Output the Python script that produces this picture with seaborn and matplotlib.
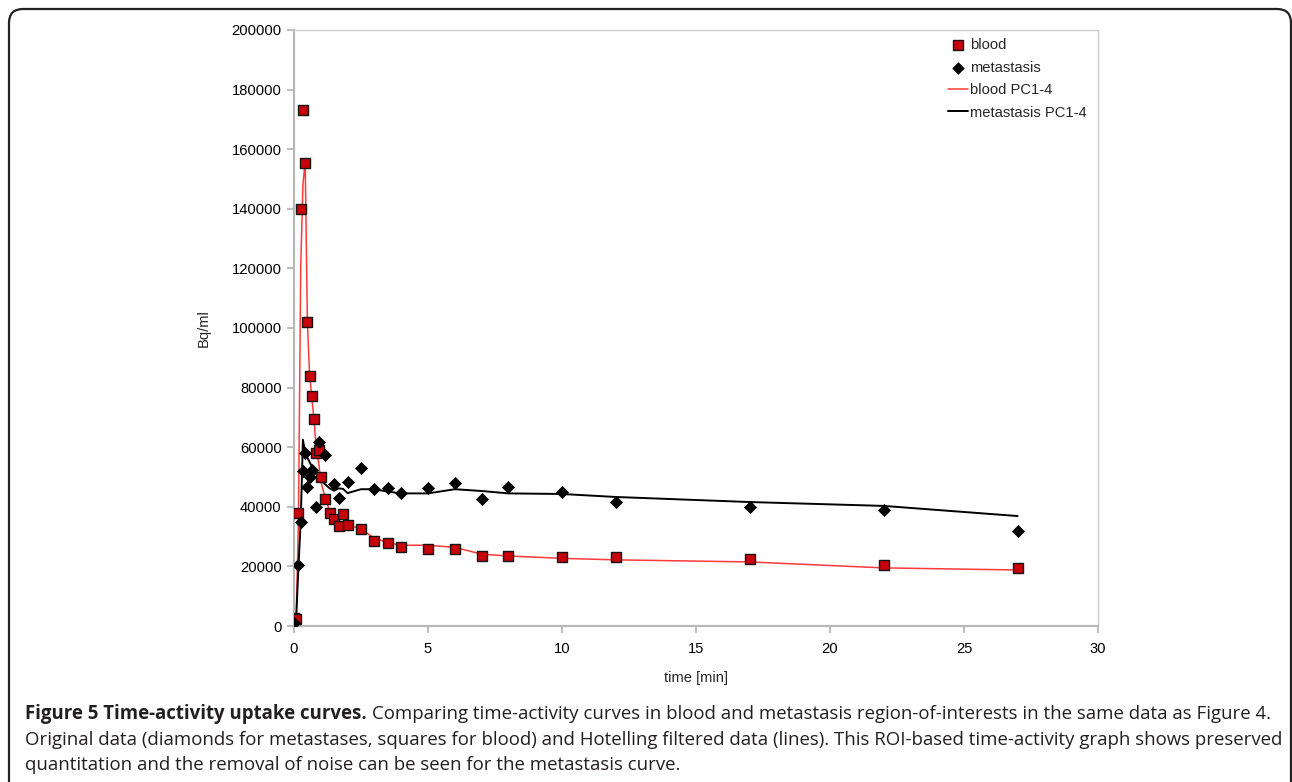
import numpy as np
import pandas as pd
import matplotlib
matplotlib.use("Agg")
import matplotlib.pyplot as plt
import seaborn as sns
from matplotlib.patches import FancyBboxPatch
from matplotlib.transforms import IdentityTransform

# ---------------- data ----------------
t_blood = [0, 0.083, 0.167, 0.25, 0.333, 0.417, 0.5, 0.583, 0.667, 0.75, 0.833, 0.917,
           1.0, 1.167, 1.333, 1.5, 1.667, 1.833, 2.0, 2.5, 3, 3.5, 4, 5, 6, 7, 8, 10,
           12, 17, 22, 27]
blood = [2600, 2400, 38000, 140000, 173000, 155500, 102000, 84000, 77300, 69300, 58000, 59000,
         50000, 42500, 38000, 36000, 33500, 37500, 33800, 32700, 28500, 27700, 26400, 25700,
         25700, 23600, 23500, 23300, 23200, 22500, 20500, 19500]

t_meta = [0, 0.167, 0.25, 0.333, 0.417, 0.5, 0.583, 0.667, 0.833, 0.917, 1.167, 1.5,
          1.667, 2.0, 2.5, 3, 3.5, 4, 5, 6, 7, 8, 10, 12, 17, 22, 27]
meta = [1100, 20500, 34800, 52000, 57900, 46700, 49900, 52300, 39800, 61600, 57300, 47500,
        43000, 48400, 53100, 45900, 46400, 44500, 46200, 47900, 42500, 46700, 45100, 41600,
        39900, 38900, 31900]

t_fit = t_blood
blood_fit = [1500, 3000, 36000, 120000, 148000, 156000, 102000, 84000, 76500, 69000, 59000, 55000,
             48500, 43000, 38500, 36500, 35000, 34500, 34000, 32500, 29500, 28000, 27100, 27100,
             26400, 24100, 23500, 22700, 22200, 21500, 19500, 18800]
meta_fit = [800, 3000, 20000, 35000, 62500, 58000, 56500, 55000, 53500, 52000, 51000, 50500,
            49000, 47500, 46200, 45400, 46200, 46000, 44600, 45900, 45900, 45100, 44500, 44500,
            45900, 45300, 44500, 44300, 43300, 41600, 40300, 36900]

x_ticks = [0, 5, 10, 15, 20, 25, 30]
y_ticks = [0, 20000, 40000, 60000, 80000, 100000, 120000, 140000, 160000, 180000, 200000]

caption_bold = "Figure 5 Time-activity uptake curves."
caption_lines = [
    "Comparing time-activity curves in blood and metastasis region-of-interests in the same data as Figure 4.",
    "Original data (diamonds for metastases, squares for blood) and Hotelling filtered data (lines). This ROI-based time-activity graph shows preserved",
    "quantitation and the removal of noise can be seen for the metastasis curve.",
]

# ---------------- style ----------------
sns.set_theme(style="white")
plt.rcParams['font.family'] = ['Liberation Sans', 'DejaVu Sans']

W, H = 1292, 782
fig = plt.figure(figsize=(W / 100, H / 100), dpi=100)
fig.patch.set_facecolor('white')
ax = fig.add_axes([294 / W, 1 - 626 / H, 804 / W, 596 / H])

df_fit = pd.DataFrame({'t': t_fit, 'blood': blood_fit, 'meta': meta_fit})
df_blood = pd.DataFrame({'t': t_blood, 'v': blood})
df_meta = pd.DataFrame({'t': t_meta, 'v': meta})

sns.lineplot(data=df_fit, x='t', y='blood', ax=ax, color='#ff3a3a', lw=1.1,
             label='blood PC1-4', zorder=2)
sns.lineplot(data=df_fit, x='t', y='meta', ax=ax, color='black', lw=1.4,
             label='metastasis PC1-4', zorder=2)
sns.scatterplot(data=df_blood, x='t', y='v', ax=ax, marker='s', s=62, color='#c8000a',
                edgecolor='#151515', linewidth=1.0, label='blood', zorder=3)
sns.scatterplot(data=df_meta, x='t', y='v', ax=ax, marker='D', s=38, color='black',
                edgecolor='black', linewidth=0.5, label='metastasis', zorder=4)

ax.set_xlim(0, 30)
ax.set_ylim(0, 200000)
ax.set_xticks(x_ticks)
ax.set_xticklabels([str(v) for v in x_ticks])
ax.set_yticks(y_ticks)
ax.set_yticklabels([str(v) for v in y_ticks])

for s in ['left', 'bottom']:
    ax.spines[s].set_color('#b8b8b8')
    ax.spines[s].set_linewidth(1.6)
for s in ['top', 'right']:
    ax.spines[s].set_color('#cccccc')
    ax.spines[s].set_linewidth(1.0)

ax.tick_params(axis='both', which='major', bottom=True, left=True, direction='out',
               length=5.3, width=1.3, color='#b8b8b8', labelsize=10.6, labelcolor='black')
ax.tick_params(axis='y', pad=3.6)
ax.tick_params(axis='x', pad=6)

ax.set_xlabel('time [min]', fontsize=10.6, labelpad=11)
ax.set_ylabel('Bq/ml', fontsize=10.6, labelpad=15)

handles, labels = ax.get_legend_handles_labels()
order = ['blood', 'metastasis', 'blood PC1-4', 'metastasis PC1-4']
hmap = dict(zip(labels, handles))
ax.legend([hmap[k] for k in order], order, loc='upper left',
          bbox_to_anchor=((948 - 294) / 804, 1 - (38 - 30) / 596),
          frameon=False, fontsize=10.6, borderpad=0, borderaxespad=0,
          handlelength=1.35, handletextpad=0.15, labelspacing=0.58, markerscale=0.95)

# ---------------- figure border ----------------
border = FancyBboxPatch((9, -40), 1282, H - 9 + 40,
                        boxstyle="round,pad=0,rounding_size=14",
                        transform=IdentityTransform(), fill=False,
                        edgecolor='#222222', linewidth=1.6, zorder=10)
fig.add_artist(border)

# ---------------- caption ----------------
cap_color = '#231f20'
cap_x = 25
baselines = [719, 745, 770]
renderer = fig.canvas.get_renderer()

probe = fig.text(0, 0, caption_lines[1], fontfamily='Open Sans', fontsize=12)
w = probe.get_window_extent(renderer).width
fs = 12 * 1248 / w
probe.remove()

tb = fig.text(cap_x / W, 1 - baselines[0] / H, caption_bold, fontfamily='Open Sans',
              fontweight='bold', fontsize=fs, color=cap_color, va='baseline', ha='left')
bb = tb.get_window_extent(renderer)
gap = 0.27 * fs * 100 / 72
fig.text((bb.x1 + gap) / W, 1 - baselines[0] / H, caption_lines[0], fontfamily='Open Sans',
         fontsize=fs, color=cap_color, va='baseline', ha='left')
for line, bl in zip(caption_lines[1:], baselines[1:]):
    fig.text(cap_x / W, 1 - bl / H, line, fontfamily='Open Sans', fontsize=fs,
             color=cap_color, va='baseline', ha='left')

fig.savefig('out.png', dpi=100)
